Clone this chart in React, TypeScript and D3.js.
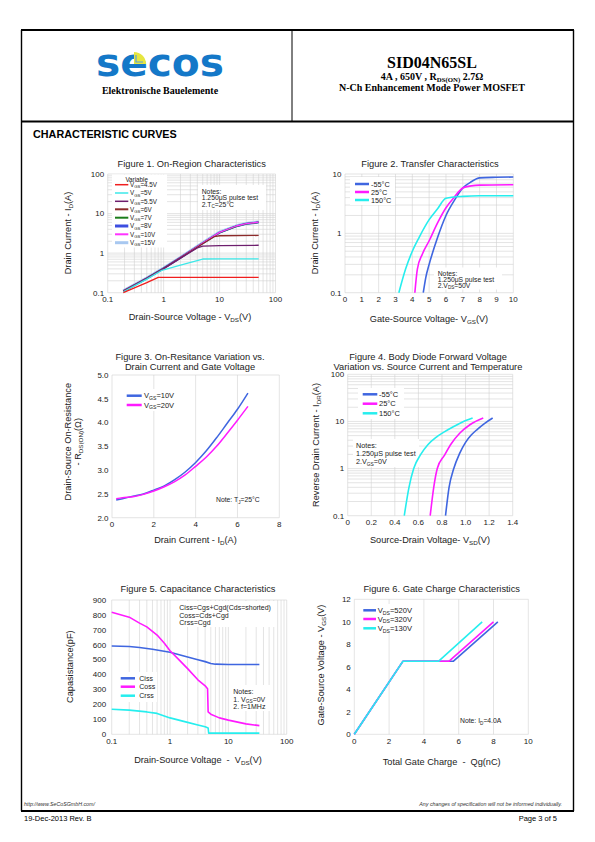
import React from 'react';
import * as d3 from 'd3';

type Pt = [number, number];

// ================= Figure 1 : On-Region Characteristics =================
const fig1XTicks = [0.1, 1, 10, 100];
const fig1XLabels = ['0.1', '1', '10', '100'];
const fig1YTicks = [0.1, 1, 10, 100];
const fig1YLabels = ['0.1', '1', '10', '100'];
const fig1Names = ['V{GS}=4.5V', 'V{GS}=5V', 'V{GS}=5.5V', 'V{GS}=6V', 'V{GS}=7V', 'V{GS}=8V', 'V{GS}=10V', 'V{GS}=15V'];
const fig1Vgs45: Pt[] = [[0.19, 0.1], [0.5, 0.18], [0.8, 0.245], [1, 0.245], [50, 0.245]];
const fig1Vgs5: Pt[] = [[0.19, 0.105], [0.5, 0.22], [0.9, 0.36], [1, 0.38], [2, 0.5], [5, 0.71], [10, 0.72], [50, 0.72]];
const fig1Vgs55: Pt[] = [[0.19, 0.108], [0.5, 0.23], [1, 0.41], [2, 0.75], [4, 1.35], [5, 1.5], [10, 1.55], [50, 1.58]];
const fig1Vgs6: Pt[] = [[0.19, 0.11], [0.5, 0.23], [1, 0.41], [2, 0.76], [5, 1.72], [8, 2.6], [10, 2.75], [50, 2.8]];
const fig1Vgs7: Pt[] = [[0.19, 0.11], [0.5, 0.23], [1, 0.41], [2, 0.77], [5, 1.78], [10, 3.3], [20, 4.8], [30, 5.5], [50, 6.0]];
const fig1Vgs8: Pt[] = [[0.19, 0.11], [0.5, 0.23], [1, 0.41], [2, 0.77], [5, 1.78], [10, 3.3], [20, 4.8], [30, 5.5], [50, 6.0]];
const fig1Vgs10: Pt[] = [[0.19, 0.11], [0.5, 0.23], [1, 0.41], [2, 0.77], [5, 1.8], [10, 3.35], [20, 4.85], [30, 5.55], [50, 6.05]];
const fig1Vgs15: Pt[] = [[0.19, 0.112], [0.5, 0.235], [1, 0.42], [2, 0.78], [5, 1.82], [10, 3.4], [20, 4.9], [30, 5.6], [50, 6.1]];

// ================= Figure 2 : Transfer Characteristics =================
const fig2XTicks = [0, 1, 2, 3, 4, 5, 6, 7, 8, 9, 10];
const fig2XLabels = ['0', '1', '2', '3', '4', '5', '6', '7', '8', '9', '10'];
const fig2YTicks = [0.1, 1, 10];
const fig2YLabels = ['0.1', '1', '10'];
const fig2Names = ['-55°C', '25°C', '150°C'];
const fig2Tm55: Pt[] = [[4.65, 0.1], [4.8, 0.18], [5, 0.3], [5.5, 0.85], [6, 2.0], [6.5, 3.6], [7, 5.8], [7.5, 7.4], [8, 8.6], [9, 8.8], [10, 8.9]];
const fig2T25: Pt[] = [[4.15, 0.1], [4.3, 0.25], [4.6, 0.45], [5, 0.75], [5.5, 1.5], [6, 2.7], [6.5, 4.1], [7, 5.8], [7.5, 6.3], [8, 6.5], [10, 6.6]];
const fig2T150: Pt[] = [[3.2, 0.1], [3.6, 0.25], [4, 0.5], [4.4, 0.85], [5, 1.7], [5.5, 2.6], [6, 3.9], [7, 4.2], [8, 4.3], [10, 4.3]];

// ================= Figure 3 : On-Resistance =================
const fig3XTicks = [0, 2, 4, 6, 8];
const fig3XLabels = ['0', '2', '4', '6', '8'];
const fig3YTicks = [2.0, 2.5, 3.0, 3.5, 4.0, 4.5, 5.0];
const fig3YLabels = ['2.0', '2.5', '3.0', '3.5', '4.0', '4.5', '5.0'];
const fig3Names = ['V{GS}=10V', 'V{GS}=20V'];
const fig3Vgs10: Pt[] = [[0.2, 2.37], [0.5, 2.4], [1, 2.45], [1.5, 2.5], [2, 2.58], [2.5, 2.67], [3, 2.8], [3.5, 2.96], [4, 3.16], [4.5, 3.4], [5, 3.68], [5.5, 3.98], [6, 4.28], [6.5, 4.62]];
const fig3Vgs20: Pt[] = [[0.2, 2.4], [0.5, 2.42], [1, 2.44], [1.5, 2.49], [2, 2.56], [2.5, 2.65], [3, 2.76], [3.5, 2.9], [4, 3.08], [4.5, 3.27], [5, 3.5], [5.5, 3.77], [6, 4.05], [6.5, 4.34]];

// ================= Figure 4 : Body Diode =================
const fig4XTicks = [0, 0.2, 0.4, 0.6, 0.8, 1.0, 1.2, 1.4];
const fig4XLabels = ['0', '0.2', '0.4', '0.6', '0.8', '1.0', '1.2', '1.4'];
const fig4YTicks = [0.1, 1, 10, 100];
const fig4YLabels = ['0.1', '1', '10', '100'];
const fig4Names = ['-55°C', '25°C', '150°C'];
const fig4Tm55: Pt[] = [[0.83, 0.1], [0.86, 0.4], [0.9, 1.0], [0.95, 2.1], [1.0, 3.6], [1.05, 5.2], [1.1, 6.8], [1.16, 9.0], [1.23, 11.8]];
const fig4T25: Pt[] = [[0.7, 0.1], [0.73, 0.4], [0.76, 1.0], [0.82, 1.9], [0.88, 3.4], [0.95, 5.6], [1.04, 8.6], [1.15, 11.8]];
const fig4T150: Pt[] = [[0.48, 0.1], [0.52, 0.4], [0.56, 1.0], [0.62, 2.0], [0.68, 3.2], [0.75, 4.6], [0.82, 6.0], [0.9, 7.8], [0.97, 9.6], [1.06, 11.8]];

// ================= Figure 5 : Capacitance =================
const fig5XTicks = [0.1, 1, 10, 100];
const fig5XLabels = ['0.1', '1', '10', '100'];
const fig5YTicks = [0, 100, 200, 300, 400, 500, 600, 700, 800, 900];
const fig5YLabels = ['0', '100', '200', '300', '400', '500', '600', '700', '800', '900'];
const fig5Names = ['Ciss', 'Coss', 'Crss'];
const fig5Ciss: Pt[] = [[0.1, 592], [0.2, 588], [0.3, 582], [0.5, 570], [1, 550], [2, 518], [3, 500], [4, 487], [5, 475], [6, 470], [10, 468], [34, 468]];
const fig5Coss: Pt[] = [[0.1, 818], [0.2, 785], [0.3, 745], [0.4, 720], [0.6, 665], [0.8, 610], [1, 560], [1.5, 490], [2, 440], [3, 365], [4, 325], [4.4, 305], [4.5, 150], [5, 135], [7, 110], [10, 95], [20, 70], [34, 58]];
const fig5Crss: Pt[] = [[0.1, 168], [0.2, 162], [0.4, 150], [0.6, 140], [1, 110], [2, 80], [3, 62], [4, 50], [4.5, 42], [4.6, 8], [34, 8]];

// ================= Figure 6 : Gate Charge =================
const fig6XTicks = [0, 2, 4, 6, 8, 10];
const fig6XLabels = ['0', '2', '4', '6', '8', '10'];
const fig6YTicks = [0, 2, 4, 6, 8, 10, 12];
const fig6YLabels = ['0', '2', '4', '6', '8', '10', '12'];
const fig6Names = ['V{DS}=520V', 'V{DS}=320V', 'V{DS}=130V'];
const fig6V520: Pt[] = [[0, 0], [2.8, 6.5], [5.7, 6.5], [8.25, 10]];
const fig6V320: Pt[] = [[0, 0], [2.8, 6.5], [5.45, 6.5], [8.0, 10]];
const fig6V130: Pt[] = [[0, 0], [2.8, 6.5], [4.85, 6.5], [7.35, 10]];

// ---------------------------------------------------------------
const BLUE = '#3f66e0';
const MAGENTA = '#ff1aff';
const CYAN = '#26eeee';
const GRID = '#d2d2d2';
const SANS = "'Liberation Sans', Arial, sans-serif";
const SERIF = "'Liberation Serif', 'Times New Roman', serif";

function logMinor(lo: number, hi: number): number[] {
  const out: number[] = [];
  for (let e = Math.floor(Math.log10(lo)); e < Math.round(Math.log10(hi)); e++) {
    for (let k = 1; k <= 9; k++) out.push(k * Math.pow(10, e));
  }
  out.push(hi);
  return out;
}

function rich(text: string, fs: number) {
  const parts = text.split(/(\{[^}]*\})/).filter((p) => p.length);
  let shifted = false;
  return parts.map((p, i) => {
    if (p.startsWith('{')) {
      const el = (
        <tspan key={i} fontSize={fs * 0.68} dy={shifted ? 0 : fs * 0.22}>
          {p.slice(1, -1)}
        </tspan>
      );
      shifted = true;
      return el;
    }
    const el = (
      <tspan key={i} dy={shifted ? -fs * 0.22 : 0}>
        {p}
      </tspan>
    );
    shifted = false;
    return el;
  });
}

interface Axis {
  type: 'log' | 'linear';
  domain: [number, number];
  range: [number, number];
}
interface Series {
  data: Pt[];
  color: string;
  width: number;
  smooth?: boolean;
}
interface Legend {
  names: string[];
  colors: string[];
  widths: number[];
  lx1: number;
  lx2: number;
  tx: number;
  ys: number[];
  fs: number;
  box: [number, number, number, number];
  header?: { text: string; x: number; y: number };
}
interface Notes {
  lines: string[];
  x: number;
  ys: number[];
  fs: number;
  box?: [number, number, number, number];
}
interface ChartProps {
  x: Axis;
  y: Axis;
  xTicks: number[];
  xLabels: string[];
  yTicks: number[];
  yLabels: string[];
  xGrid: number[];
  yGrid: number[];
  series: Series[];
  title: string[];
  titleX: number;
  titleYs: number[];
  titleFs: number;
  xTitle: string;
  xTitleX: number;
  xTitleY: number;
  yTitle: string[];
  yTitleXs: number[];
  yTitleY: number;
  axisFs: number;
  legend: Legend;
  notes: Notes[];
  yLabelGap?: number;
}

function Chart(p: ChartProps) {
  const xs: any = p.x.type === 'log' ? d3.scaleLog().domain(p.x.domain).range(p.x.range) : d3.scaleLinear().domain(p.x.domain).range(p.x.range);
  const ys: any = p.y.type === 'log' ? d3.scaleLog().domain(p.y.domain).range(p.y.range) : d3.scaleLinear().domain(p.y.domain).range(p.y.range);
  const [xl, xr] = p.x.range;
  const [yb, yt] = p.y.range;
  const lg = p.legend;
  const gap = p.yLabelGap ?? 3.5;
  return (
    <g fontFamily={SANS} fill="#222">
      {p.xGrid.map((v, i) => (
        <line key={'gx' + i} x1={xs(v)} x2={xs(v)} y1={yb} y2={yt} stroke={GRID} strokeWidth={0.6} />
      ))}
      {p.yGrid.map((v, i) => (
        <line key={'gy' + i} x1={xl} x2={xr} y1={ys(v)} y2={ys(v)} stroke={GRID} strokeWidth={0.6} />
      ))}
      <rect x={lg.box[0]} y={lg.box[1]} width={lg.box[2]} height={lg.box[3]} fill="#fff" />
      {p.notes.map((n, i) =>
        n.box ? <rect key={'nb' + i} x={n.box[0]} y={n.box[1]} width={n.box[2]} height={n.box[3]} fill="#fff" /> : null
      )}
      {p.series.map((s, i) => {
        const gen = d3
          .line<Pt>()
          .x((d) => xs(d[0]))
          .y((d) => ys(d[1]))
          .curve(s.smooth ? d3.curveMonotoneX : d3.curveLinear);
        return <path key={'s' + i} d={gen(s.data) || ''} fill="none" stroke={s.color} strokeWidth={s.width} strokeLinejoin="round" />;
      })}
      {p.xTicks.map((v, i) => (
        <text key={'xt' + i} x={xs(v)} y={yb + 9.5} fontSize={8} textAnchor="middle">
          {p.xLabels[i]}
        </text>
      ))}
      {p.yTicks.map((v, i) => (
        <text key={'yt' + i} x={xl - gap} y={ys(v) + 2.8} fontSize={8} textAnchor="end">
          {p.yLabels[i]}
        </text>
      ))}
      {p.title.map((t, i) => (
        <text key={'t' + i} x={p.titleX} y={p.titleYs[i]} fontSize={p.titleFs} textAnchor="middle">
          {t}
        </text>
      ))}
      <text x={p.xTitleX} y={p.xTitleY} fontSize={p.axisFs} textAnchor="middle" style={{ whiteSpace: 'pre' }}>
        {rich(p.xTitle, p.axisFs)}
      </text>
      {p.yTitle.map((t, i) => (
        <text
          key={'yT' + i}
          transform={`translate(${p.yTitleXs[i]},${p.yTitleY}) rotate(-90)`}
          fontSize={p.axisFs}
          textAnchor="middle"
        >
          {rich(t, p.axisFs)}
        </text>
      ))}
      {lg.header ? (
        <text x={lg.header.x} y={lg.header.y} fontSize={lg.fs} textAnchor="middle">
          {lg.header.text}
        </text>
      ) : null}
      {lg.names.map((n, i) => (
        <g key={'lg' + i}>
          <line x1={lg.lx1} x2={lg.lx2} y1={lg.ys[i]} y2={lg.ys[i]} stroke={lg.colors[i]} strokeWidth={lg.widths[i]} />
          <text x={lg.tx} y={lg.ys[i] + lg.fs * 0.36} fontSize={lg.fs}>
            {rich(n, lg.fs)}
          </text>
        </g>
      ))}
      {p.notes.map((n, i) => (
        <g key={'n' + i}>
          {n.lines.map((l, j) => (
            <text key={j} x={n.x} y={n.ys[j] + n.fs * 0.36} fontSize={n.fs}>
              {rich(l, n.fs)}
            </text>
          ))}
        </g>
      ))}
    </g>
  );
}

export default function App() {
  const fig1Colors = ['#f01e1e', '#3de8e8', '#6e1f6e', '#8c2b2b', '#1b7d1b', '#3d4ee0', '#ff33ff', '#a8c8f0'];
  const fig1Widths = [1.5, 1.5, 1.5, 2, 2, 3, 2, 3];
  return (
    <svg width={595} height={842} style={{ position: 'absolute', left: 0, top: 0, background: '#fff' }}>
      <rect x={0} y={0} width={595} height={842} fill="#fff" />
      {/* page frame */}
      <line x1={21.5} x2={21.5} y1={30} y2={811} stroke="#000" strokeWidth={1.4} />
      <line x1={573.5} x2={573.5} y1={30} y2={811} stroke="#000" strokeWidth={1.4} />
      <line x1={21} x2={574} y1={30} y2={30} stroke="#000" strokeWidth={2} />
      <line x1={21} x2={574} y1={121.5} y2={121.5} stroke="#000" strokeWidth={2} />
      <line x1={21} x2={574} y1={811} y2={811} stroke="#000" strokeWidth={2} />
      <line x1={292} x2={292} y1={30} y2={121.5} stroke="#000" strokeWidth={1} />

      {/* logo */}
      <text x={96} y={75.5} fontFamily="'DejaVu Sans', sans-serif" fontWeight="bold" fontSize={38} fill="#1478c8" textLength={128} lengthAdjust="spacingAndGlyphs">
        secos
      </text>
      <path d="M134,64 L134,52 A12,12 0 0 1 146,64 Z" fill="#e6e640" />
      <path d="M136,55 L136,62 L143,62" fill="none" stroke="#5aa0d8" strokeWidth={1.2} />
      <text x={160} y={93.5} fontFamily={SERIF} fontWeight="bold" fontSize={10} textAnchor="middle">
        Elektronische Bauelemente
      </text>

      {/* header right */}
      <text x={432} y={67.5} fontFamily={SERIF} fontWeight="bold" fontSize={16} textAnchor="middle">
        SID04N65SL
      </text>
      <text x={432} y={79.5} fontFamily={SERIF} fontWeight="bold" fontSize={10} textAnchor="middle">
        {rich('4A , 650V , R{DS(ON)} 2.7Ω', 10)}
      </text>
      <text x={432} y={90.5} fontFamily={SERIF} fontWeight="bold" fontSize={10} textAnchor="middle">
        N-Ch Enhancement Mode Power MOSFET
      </text>

      <text x={33} y={138} fontFamily={SANS} fontWeight="bold" fontSize={10.8}>
        CHARACTERISTIC CURVES
      </text>

      {/* Figure 1 */}
      <Chart
        x={{ type: 'log', domain: [0.1, 100], range: [107.7, 275.5] }}
        y={{ type: 'log', domain: [0.1, 100], range: [292.7, 174] }}
        xTicks={fig1XTicks}
        xLabels={fig1XLabels}
        yTicks={fig1YTicks}
        yLabels={fig1YLabels}
        xGrid={logMinor(0.1, 100)}
        yGrid={logMinor(0.1, 100)}
        series={[
          { data: fig1Vgs15, color: fig1Colors[7], width: 3 },
          { data: fig1Vgs8, color: fig1Colors[5], width: 2 },
          { data: fig1Vgs7, color: fig1Colors[4], width: 1.5 },
          { data: fig1Vgs10, color: fig1Colors[6], width: 1.3 },
          { data: fig1Vgs6, color: fig1Colors[3], width: 1.3 },
          { data: fig1Vgs55, color: fig1Colors[2], width: 1.3 },
          { data: fig1Vgs5, color: fig1Colors[1], width: 1.3 },
          { data: fig1Vgs45, color: fig1Colors[0], width: 1.3 },
        ]}
        title={['Figure 1. On-Region Characteristics']}
        titleX={191.7}
        titleYs={[167.3]}
        titleFs={9.3}
        xTitle="Drain-Source Voltage - V{DS}(V)"
        xTitleX={190}
        xTitleY={320}
        yTitle={['Drain Current - I{D}(A)']}
        yTitleXs={[71]}
        yTitleY={233}
        axisFs={9.2}
        legend={{
          names: fig1Names,
          colors: fig1Colors,
          widths: fig1Widths,
          lx1: 115,
          lx2: 128.3,
          tx: 130,
          ys: [184.7, 193, 201.3, 209.3, 217.7, 226, 234.3, 242.7],
          fs: 6.3,
          box: [112, 174.5, 55, 73],
          header: { text: 'Variable', x: 136.7, y: 181.5 },
        }}
        notes={[
          { lines: ['Notes:', '1.250μS pulse test', '2.T{C}=25°C'], x: 201.7, ys: [191.3, 197.8, 204.3], fs: 6.8, box: [198, 185, 68, 25] },
        ]}
      />

      {/* Figure 2 */}
      <Chart
        x={{ type: 'linear', domain: [0, 10], range: [345, 513.3] }}
        y={{ type: 'log', domain: [0.1, 10], range: [292.7, 174] }}
        xTicks={fig2XTicks}
        xLabels={fig2XLabels}
        yTicks={fig2YTicks}
        yLabels={fig2YLabels}
        xGrid={fig2XTicks}
        yGrid={logMinor(0.1, 10)}
        series={[
          { data: fig2Tm55, color: BLUE, width: 1.6, smooth: true },
          { data: fig2T25, color: MAGENTA, width: 1.6, smooth: true },
          { data: fig2T150, color: CYAN, width: 1.6, smooth: true },
        ]}
        title={['Figure 2. Transfer Characteristics']}
        titleX={430}
        titleYs={[167.3]}
        titleFs={9.3}
        xTitle="Gate-Source Voltage- V{GS}(V)"
        xTitleX={429}
        xTitleY={321.5}
        yTitle={['Drain Current - I{D}(A)']}
        yTitleXs={[318.2]}
        yTitleY={233}
        axisFs={9.2}
        legend={{
          names: fig2Names,
          colors: [BLUE, MAGENTA, CYAN],
          widths: [2.5, 2.5, 2.5],
          lx1: 355,
          lx2: 369,
          tx: 371,
          ys: [184, 192, 200],
          fs: 7.3,
          box: [350, 177, 45, 28],
        }}
        notes={[
          { lines: ['Notes:', '1.250μS pulse test', '2.V{DS}=50V'], x: 437.7, ys: [273.3, 279.3, 285.3], fs: 6.8, box: [434, 267.5, 68, 22] },
        ]}
      />

      {/* Figure 3 */}
      <Chart
        x={{ type: 'linear', domain: [0, 8], range: [112, 279.3] }}
        y={{ type: 'linear', domain: [2, 5], range: [517.7, 375] }}
        xTicks={fig3XTicks}
        xLabels={fig3XLabels}
        yTicks={fig3YTicks}
        yLabels={fig3YLabels}
        xGrid={fig3XTicks}
        yGrid={[2, 5]}
        series={[
          { data: fig3Vgs10, color: BLUE, width: 1.5, smooth: true },
          { data: fig3Vgs20, color: MAGENTA, width: 1.5, smooth: true },
        ]}
        title={['Figure 3. On-Resitance Variation vs.', 'Drain Current and Gate Voltage']}
        titleX={190}
        titleYs={[360.3, 370.3]}
        titleFs={9.3}
        xTitle="Drain Current - I{D}(A)"
        xTitleX={195.5}
        xTitleY={543}
        yTitle={['Drain-Source On-Resistance', '- R{DS(ON)}(Ω)']}
        yTitleXs={[70.5, 80.5]}
        yTitleY={441.7}
        axisFs={9.2}
        legend={{
          names: fig3Names,
          colors: [BLUE, MAGENTA],
          widths: [2.5, 2.5],
          lx1: 126.7,
          lx2: 141.7,
          tx: 144,
          ys: [395.7, 405],
          fs: 7.5,
          box: [123, 389, 62, 22],
        }}
        notes={[{ lines: ['Note: T{J}=25°C'], x: 216, ys: [500], fs: 6.8 }]}
      />

      {/* Figure 4 */}
      <Chart
        x={{ type: 'linear', domain: [0, 1.4], range: [347.7, 512.7] }}
        y={{ type: 'log', domain: [0.1, 100], range: [515.7, 374.3] }}
        xTicks={fig4XTicks}
        xLabels={fig4XLabels}
        yTicks={fig4YTicks}
        yLabels={fig4YLabels}
        xGrid={fig4XTicks}
        yGrid={logMinor(0.1, 100)}
        series={[
          { data: fig4Tm55, color: BLUE, width: 1.6, smooth: true },
          { data: fig4T25, color: MAGENTA, width: 1.6, smooth: true },
          { data: fig4T150, color: CYAN, width: 1.6, smooth: true },
        ]}
        title={['Figure 4. Body Diode Forward Voltage', 'Variation vs. Source Current and Temperature']}
        titleX={428}
        titleYs={[360.3, 369.5]}
        titleFs={9.3}
        xTitle="Source-Drain Voltage- V{SD}(V)"
        xTitleX={430}
        xTitleY={543}
        yTitle={['Reverse Drain Current - I{DR}(A)']}
        yTitleXs={[319.2]}
        yTitleY={445}
        axisFs={9.2}
        legend={{
          names: fig4Names,
          colors: [BLUE, MAGENTA, CYAN],
          widths: [2.5, 2.5, 2.5],
          lx1: 362.7,
          lx2: 377.3,
          tx: 379,
          ys: [394.3, 403.7, 413.3],
          fs: 7.5,
          box: [358, 388, 46, 31],
        }}
        notes={[
          { lines: ['Notes:', '1.250μS pulse test', '2.V{GS}=0V'], x: 356, ys: [445, 453.7, 461.7], fs: 7.2, box: [353, 439, 66, 28] },
        ]}
      />

      {/* Figure 5 */}
      <Chart
        x={{ type: 'log', domain: [0.1, 100], range: [111.7, 286.7] }}
        y={{ type: 'linear', domain: [0, 900], range: [734.3, 600] }}
        xTicks={fig5XTicks}
        xLabels={fig5XLabels}
        yTicks={fig5YTicks}
        yLabels={fig5YLabels}
        xGrid={logMinor(0.1, 100)}
        yGrid={[0, 900]}
        yLabelGap={5.5}
        series={[
          { data: fig5Ciss, color: BLUE, width: 1.6 },
          { data: fig5Coss, color: MAGENTA, width: 1.6 },
          { data: fig5Crss, color: CYAN, width: 1.6 },
        ]}
        title={['Figure 5. Capacitance Characteristics']}
        titleX={198}
        titleYs={[591.6]}
        titleFs={9.3}
        xTitle="Drain-Source Voltage  -  V{DS}(V)"
        xTitleX={198}
        xTitleY={763}
        yTitle={['Capasistance(pF)']}
        yTitleXs={[72.5]}
        yTitleY={666.7}
        axisFs={9.2}
        legend={{
          names: fig5Names,
          colors: [BLUE, MAGENTA, CYAN],
          widths: [2.5, 2.5, 2.5],
          lx1: 120.7,
          lx2: 135,
          tx: 139.3,
          ys: [678.3, 686.7, 695.7],
          fs: 7,
          box: [117, 672, 40, 30],
        }}
        notes={[
          { lines: ['Ciss=Cgs+Cgd(Cds=shorted)', 'Coss=Cds+Cgd', 'Crss=Cgd'], x: 179.3, ys: [607.3, 615, 622.7], fs: 7, box: [176, 601, 100, 26] },
          { lines: ['Notes:', '1. V{GS}=0V', '2. f=1MHz'], x: 233.3, ys: [691.7, 699.3, 706.7], fs: 7, box: [230, 685, 40, 26] },
        ]}
      />

      {/* Figure 6 */}
      <Chart
        x={{ type: 'linear', domain: [0, 10], range: [354.3, 528.3] }}
        y={{ type: 'linear', domain: [0, 12], range: [734.3, 599.3] }}
        xTicks={fig6XTicks}
        xLabels={fig6XLabels}
        yTicks={fig6YTicks}
        yLabels={fig6YLabels}
        xGrid={fig6XTicks}
        yGrid={[0, 12]}
        series={[
          { data: fig6V520, color: BLUE, width: 1.6 },
          { data: fig6V320, color: MAGENTA, width: 1.6 },
          { data: fig6V130, color: CYAN, width: 1.6 },
        ]}
        title={['Figure 6. Gate Charge Characteristics']}
        titleX={441.7}
        titleYs={[591.6]}
        titleFs={9.3}
        xTitle="Total Gate Charge  -  Qg(nC)"
        xTitleX={441.7}
        xTitleY={765}
        yTitle={['Gate-Source Voltage - V{GS}(V)']}
        yTitleXs={[323.9]}
        yTitleY={665}
        axisFs={9.2}
        legend={{
          names: fig6Names,
          colors: [BLUE, MAGENTA, CYAN],
          widths: [2.5, 2.5, 2.5],
          lx1: 363.3,
          lx2: 376,
          tx: 377.7,
          ys: [610.3, 619, 628.3],
          fs: 7.6,
          box: [360, 604, 60, 29],
        }}
        notes={[{ lines: ['Note: I{D}=4.0A'], x: 460, ys: [721], fs: 6.8 }]}
      />

      {/* footer */}
      <text x={24} y={806} fontFamily={SANS} fontStyle="italic" fontSize={5.3} fill="#333">
        http://www.SeCoSGmbH.com/
      </text>
      <text x={562} y={806} fontFamily={SANS} fontStyle="italic" fontSize={5.3} textAnchor="end" fill="#333">
        Any changes of specification will not be informed individually.
      </text>
      <text x={24} y={821} fontFamily={SANS} fontSize={7.5}>
        19-Dec-2013 Rev. B
      </text>
      <text x={557} y={821} fontFamily={SANS} fontSize={7.5} textAnchor="end">
        Page 3 of 5
      </text>
    </svg>
  );
}
